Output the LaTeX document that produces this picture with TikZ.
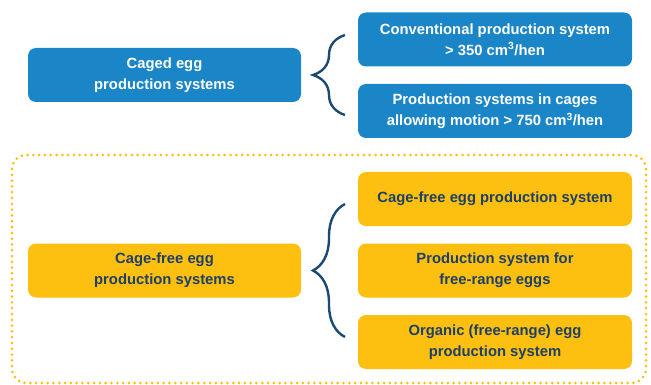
\documentclass[tikz,border=0pt]{standalone}
\usepackage{fontspec}
\setmainfont{Liberation Sans}
\usetikzlibrary{decorations.pathreplacing}
\definecolor{cagedblue}{HTML}{1A86C7}
\definecolor{freeyellow}{HTML}{FDC010}
\definecolor{navy}{HTML}{1E3F66}
\definecolor{bracenavy}{HTML}{1B4A73}
\definecolor{dotyellow}{HTML}{F8C21A}
\begin{document}
\begin{tikzpicture}[x=1pt,y=-1pt,
    sysbox/.style={rounded corners=8pt,align=center,font=\bfseries\fontsize{14.8}{21}\selectfont,
      inner sep=0pt,minimum height=54pt},
    cagedbox/.style={sysbox,fill=cagedblue,text=white},
    freebox/.style={sysbox,fill=freeyellow,text=navy},
    bracket/.style={bracenavy,line width=2.4pt,decorate,decoration={brace,amplitude=32pt}}]
    \useasboundingbox (0,0) rectangle (651,385);
    % caged systems
    \node[cagedbox,minimum width=273pt] (caged) at (164.5,75) {Caged egg\\production systems};
    \node[cagedbox,minimum width=274pt] (conv) at (495,39.5) {Conventional production system\\> 350 cm\textsuperscript{3}/hen};
    \node[cagedbox,minimum width=274pt] (motion) at (495,111) {Production systems in cages\\allowing motion > 750 cm\textsuperscript{3}/hen};
    \coordinate (cagedtop) at (345,35);
    \coordinate (cagedbot) at (345,115);
    \draw[bracket] (cagedbot) -- (cagedtop);
    % cage-free systems
    \draw[dotyellow,line width=3pt,line cap=round,dash pattern=on 0pt off 5.8pt,rounded corners=14pt]
      (12,155) rectangle (646,383);
    \node[freebox,minimum width=273pt] (free) at (164.5,270.5) {Cage-free egg\\production systems};
    \node[freebox,minimum width=274pt] (barn) at (495,199) {Cage-free egg production system};
    \node[freebox,minimum width=274pt] (range) at (495,270.5) {Production system for\\free-range eggs};
    \node[freebox,minimum width=274pt] (organic) at (495,342) {Organic (free-range) egg\\production system};
    \coordinate (freetop) at (345,204);
    \coordinate (freebot) at (345,337);
    \draw[bracket] (freebot) -- (freetop);
\end{tikzpicture}
\end{document}
